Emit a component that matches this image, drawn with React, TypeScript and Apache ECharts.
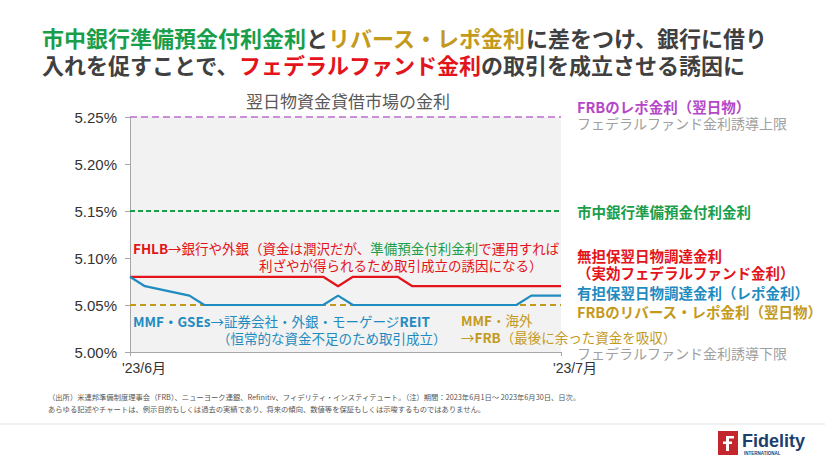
import React, { useEffect, useRef } from "react";
import * as echarts from "echarts";

// ---- data ----
const dates = [
  "2023-06-01", "2023-06-02", "2023-06-05", "2023-06-06", "2023-06-07", "2023-06-08",
  "2023-06-09", "2023-06-12", "2023-06-13", "2023-06-14", "2023-06-15", "2023-06-16",
  "2023-06-19", "2023-06-20", "2023-06-21", "2023-06-22", "2023-06-23", "2023-06-26",
  "2023-06-27", "2023-06-28", "2023-06-29", "2023-06-30",
];
// 無担保翌日物調達金利(実効FF金利)
const effr = [
  5.08, 5.08, 5.08, 5.08, 5.08, 5.08, 5.08, 5.08, 5.08, 5.08, 5.07, 5.08,
  5.08, 5.07, 5.07, 5.07, 5.07, 5.07, 5.07, 5.07, 5.07, 5.07,
];
// 有担保翌日物調達金利(レポ金利)
const sofr = [
  5.08, 5.07, 5.06, 5.05, 5.05, 5.05, 5.05, 5.05, 5.05, 5.05, 5.06, 5.05,
  5.05, 5.05, 5.05, 5.05, 5.05, 5.05, 5.05, 5.06, 5.06, 5.06,
];
const repoRate = 5.25; // FRBのレポ金利(翌日物)
const iorb = 5.15; // 市中銀行準備預金付利金利
const rrpRate = 5.05; // FRBのリバース・レポ金利(翌日物)
const xTickLabels = ["'23/6月", "'23/7月"];
const yTicks = { min: 5.0, max: 5.25, interval: 0.05 };

const dayIdx = (d: string) => Number(d.slice(8, 10)) - 1;
const lastIdx = dayIdx(dates[dates.length - 1]);

const JP = "'Noto Sans CJK JP', sans-serif";
const GRAY = "#404040";
const GREEN = "#1a9e4a";
const GOLD = "#c49a1c";
const RED = "#e3141b";
const BLUE = "#1f8bc0";
const PURPLE = "#b548c8";
const LGRAY = "#a0a0a0";

export default function App() {
  const ref = useRef<HTMLDivElement>(null);
  useEffect(() => {
    if (!ref.current) return;
    const chart = echarts.init(ref.current, null, { renderer: "svg" });
    const flat = (v: number) => [[0, v], [lastIdx, v]];
    const txt = (x: number, y: number, text: string, fill: string, size = 14, weight: any = "bold", extra: any = {}) => ({
      type: "text",
      x,
      y,
      style: { text, fill, fontSize: size, fontWeight: weight, fontFamily: JP, textVerticalAlign: "middle", lineHeight: size + 1, ...extra },
    });
    const rs = (fill: string, size: number, weight: any = "normal") => ({
      fill, fontSize: size, fontWeight: weight, fontFamily: JP, lineHeight: size + 1,
    });
    chart.setOption({
      animation: false,
      backgroundColor: "#ffffff",
      textStyle: { fontFamily: JP },
      grid: { left: 130, right: 264, top: 117, bottom: 112, show: true, backgroundColor: "#f2f2f2", borderWidth: 0 },
      xAxis: {
        type: "value",
        min: 0,
        max: lastIdx,
        interval: lastIdx,
        axisLine: { show: true, lineStyle: { color: "#a6a6a6", width: 1 } },
        axisTick: { show: true, length: 4, lineStyle: { color: "#a6a6a6" } },
        splitLine: { show: false },
        axisLabel: {
          formatter: (v: number) => (v === 0 ? xTickLabels[0] : xTickLabels[1]),
          color: "#333",
          fontSize: 14,
          fontFamily: "'Liberation Sans', " + JP,
          margin: 9,
          padding: [0, 0, 0, 28],
        },
      },
      yAxis: {
        type: "value",
        min: yTicks.min,
        max: yTicks.max,
        interval: yTicks.interval,
        axisLine: { show: true, lineStyle: { color: "#a6a6a6", width: 1 } },
        axisTick: { show: true, length: 5, lineStyle: { color: "#a6a6a6" } },
        splitLine: { show: false },
        axisLabel: {
          formatter: (v: number) => v.toFixed(2) + "%",
          color: "#333",
          fontSize: 15,
          fontFamily: "'Liberation Sans', sans-serif",
          margin: 13,
        },
      },
      series: [
        { type: "line", data: flat(repoRate), symbol: "none", lineStyle: { color: "#cc8ddb", width: 2, type: [7, 4] }, silent: true },
        { type: "line", data: flat(iorb), symbol: "none", lineStyle: { color: GREEN, width: 2, type: [5, 3] }, silent: true },
        { type: "line", data: flat(rrpRate), symbol: "none", lineStyle: { color: GOLD, width: 2, type: [6, 4] }, silent: true },
        { type: "line", data: dates.map((d, i) => [dayIdx(d), effr[i]]), symbol: "none", lineStyle: { color: RED, width: 2.2 } },
        { type: "line", data: dates.map((d, i) => [dayIdx(d), sofr[i]]), symbol: "none", lineStyle: { color: BLUE, width: 2.2 } },
      ],
      graphic: [
        {
          type: "text",
          x: 42,
          y: 37,
          style: {
            text: "{g|市中銀行準備預金付利金利}{k|と}{y|リバース・レポ金利}{k|に差をつけ、銀行に借り}",
            textVerticalAlign: "middle",
            rich: { g: rs(GREEN, 22, "bold"), k: rs(GRAY, 22, "bold"), y: rs(GOLD, 22, "bold") },
          },
        },
        {
          type: "text",
          x: 42,
          y: 64,
          style: {
            text: "{k|入れを促すことで、}{r|フェデラルファンド金利}{k|の取引を成立させる誘因に}",
            textVerticalAlign: "middle",
            rich: { r: rs(RED, 22, "bold"), k: rs(GRAY, 22, "bold") },
          },
        },
        txt(348, 100, "翌日物資金貸借市場の金利", "#595959", 17, "normal", { textAlign: "center" }),
        // right labels
        txt(577, 106, "FRBのレポ金利（翌日物）", PURPLE, 14.5),
        txt(577, 123, "フェデラルファンド金利誘導上限", LGRAY, 14, "normal"),
        txt(577, 211, "市中銀行準備預金付利金利", GREEN, 14.5),
        txt(577, 255, "無担保翌日物調達金利", RED, 14.5),
        txt(577, 272, "（実効フェデラルファンド金利）", RED, 14.5),
        txt(577, 292, "有担保翌日物調達金利（レポ金利）", BLUE, 14.5),
        txt(577, 311, "FRBのリバース・レポ金利（翌日物）", GOLD, 14.5),
        txt(577, 353, "フェデラルファンド金利誘導下限", LGRAY, 14, "normal"),
        // annotations
        {
          type: "text",
          x: 133,
          y: 248,
          style: {
            text: "{b|FHLB}{n|→銀行や外銀（資金は潤沢だが、}{g|準備預金付利金利}{n|で運用すれば}",
            textVerticalAlign: "middle",
            rich: { b: rs(RED, 13.5, "bold"), n: rs(RED, 13.5), g: rs(GREEN, 13.5) },
          },
        },
        txt(259, 265, "利ざやが得られるため取引成立の誘因になる）", RED, 13.5, "normal"),
        {
          type: "text",
          x: 133,
          y: 321,
          style: {
            text: "{b|MMF・GSEs}{n|→証券会社・外銀・モーゲージ}{b|REIT}",
            textVerticalAlign: "middle",
            rich: { b: rs(BLUE, 13.5, "bold"), n: rs(BLUE, 13.5) },
          },
        },
        txt(217, 338, "（恒常的な資金不足のため取引成立）", BLUE, 13.5, "normal"),
        {
          type: "text",
          x: 461,
          y: 320,
          style: {
            text: "{b|MMF}{n|・海外}",
            textVerticalAlign: "middle",
            rich: { b: rs(GOLD, 13.5, "bold"), n: rs(GOLD, 13.5) },
          },
        },
        {
          type: "text",
          x: 461,
          y: 337,
          style: {
            text: "{n|→}{b|FRB}{n|（最後に余った資金を吸収）}",
            textVerticalAlign: "middle",
            rich: { b: rs(GOLD, 13.5, "bold"), n: rs(GOLD, 13.5) },
          },
        },
        // footnotes
        txt(48, 397, "（出所）米連邦準備制度理事会（FRB）、ニューヨーク連銀、Refinitiv、フィデリティ・インスティテュート。（注）期間：2023年6月1日～ 2023年6月30日、日次。", "#555", 7.3, "normal"),
        txt(48, 409, "あらゆる記述やチャートは、例示目的もしくは過去の実績であり、将来の傾向、数値等を保証もしくは示唆するものではありません。", "#555", 7.3, "normal"),
        // separator
        { type: "line", shape: { x1: 0, y1: 424, x2: 825, y2: 424 }, style: { stroke: "#e2e2e2", lineWidth: 1 } },
        // logo
        { type: "rect", shape: { x: 718, y: 431, width: 20, height: 24 }, style: { fill: "#c4262e" } },
        { type: "rect", shape: { x: 726, y: 436, width: 3, height: 15 }, style: { fill: "#fff" } },
        { type: "rect", shape: { x: 726, y: 436, width: 8, height: 2.5 }, style: { fill: "#fff" } },
        { type: "rect", shape: { x: 723, y: 441.5, width: 9, height: 2.5 }, style: { fill: "#fff" } },
        { type: "text", x: 742, y: 441, style: { text: "Fidelity", fill: "#1c3f6e", fontSize: 18, fontWeight: "bold", fontFamily: "'Liberation Sans', sans-serif", textVerticalAlign: "middle" } },
        { type: "text", x: 744, y: 453, style: { text: "INTERNATIONAL", fill: "#1c3f6e", fontSize: 4.5, fontWeight: "bold", fontFamily: "'Liberation Sans', sans-serif", textVerticalAlign: "middle" } },
      ],
    });
    return () => chart.dispose();
  }, []);
  return (
    <div
      ref={ref}
      style={{ position: "absolute", left: 0, top: 0, width: 825, height: 464, background: "#fff" }}
    />
  );
}
